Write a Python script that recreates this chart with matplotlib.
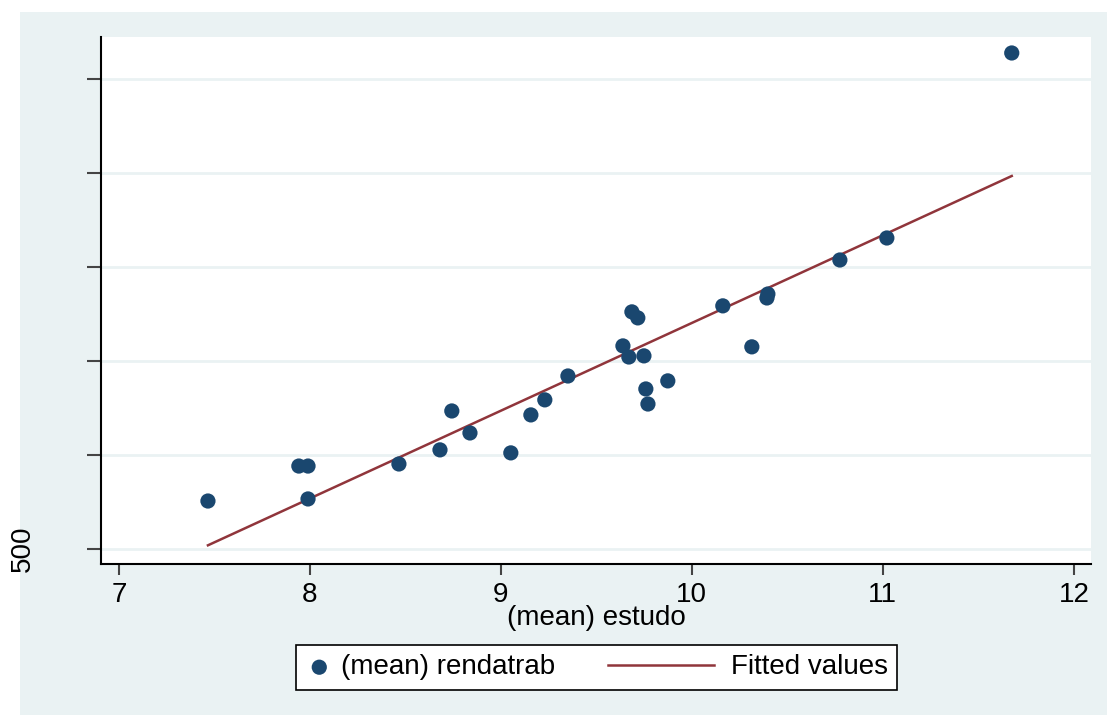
import numpy as np
import matplotlib.pyplot as plt
from matplotlib.patches import Rectangle
from matplotlib.lines import Line2D
from matplotlib.legend_handler import HandlerLine2D

plt.rcParams['font.family'] = ['Liberation Sans', 'DejaVu Sans']

# (mean) estudo vs (mean) rendatrab
estudo = [7.466, 7.942, 7.990, 7.990, 8.466, 8.681, 8.743, 8.838, 9.052,
          9.157, 9.230, 9.351, 9.639, 9.670, 9.686, 9.717, 9.749, 9.759,
          9.770, 9.874, 10.162, 10.314, 10.398, 10.393, 10.775, 11.021, 11.675]
rendatrab = [755, 941, 941, 766, 952, 1027, 1234, 1117, 1011,
             1213, 1293, 1420, 1580, 1521, 1761, 1729, 1527, 1351,
             1271, 1394, 1793, 1575, 1856, 1835, 2037, 2154, 3138]
xticks = [7, 8, 9, 10, 11, 12]
yticks = [500, 1000, 1500, 2000, 2500, 3000]
ylabels = ['500', '', '', '', '', '']

navy = '#1a476f'
maroon = '#90353b'
bg = '#eaf2f3'


class LongLine(HandlerLine2D):
    # stata-style legend line: longer than the marker key, drawn to the left
    def create_artists(self, legend, orig_handle, xdescent, ydescent,
                       width, height, fontsize, trans):
        y = height / 2 - ydescent
        x1 = width - xdescent - 6
        line = Line2D([x1 - 76, x1], [y, y])
        self.update_prop(line, orig_handle, legend)
        line.set_transform(trans)
        return [line]


x = np.array(estudo)
y = np.array(rendatrab)
m, b = np.polyfit(x, y, 1)
xf = np.array([x.min(), x.max()])

fig = plt.figure(figsize=(11.07, 7.15), dpi=100)
fig.patch.set_facecolor('white')
fig.patches.append(Rectangle((20/1107, 0), 1.0, 1 - 12/715, transform=fig.transFigure,
                             facecolor=bg, edgecolor='none', zorder=-10))

ax = fig.add_axes([101/1107, 1 - 564/715, 990/1107, 527/715])
ax.set_facecolor('white')
ax.set_axisbelow(True)
ax.grid(axis='y', color=bg, linewidth=2)
ax.grid(axis='x', visible=False)

ax.scatter(x, y, s=120, color=navy, edgecolors='none', zorder=3,
           label='(mean) rendatrab')
fit, = ax.plot(xf, m * xf + b, color=maroon, linewidth=1.8, zorder=2,
               label='Fitted values')

ax.set_xlim(6.906, 12.09)
ax.set_ylim(420, 3223)
ax.set_xticks(xticks)
ax.set_xticklabels([str(t) for t in xticks], fontsize=20)
ax.set_yticks(yticks)
ax.set_yticklabels(ylabels, fontsize=20, rotation=90, va='center')
ax.tick_params(axis='y', length=10, width=1.5, color='#444444', pad=37)
ax.tick_params(axis='x', length=8, width=1.5, color='#444444', pad=5)
ax.set_xlabel('(mean) estudo', fontsize=20, labelpad=-2)

for side in ['top', 'right']:
    ax.spines[side].set_visible(False)
for side in ['left', 'bottom']:
    ax.spines[side].set_linewidth(1.5)
    ax.spines[side].set_color('black')

leg = fig.legend(loc='center', bbox_to_anchor=(596.5/1107, 1 - 667.5/715),
                 ncol=2, fontsize=20, frameon=True, fancybox=False,
                 facecolor='white', framealpha=1, edgecolor='black',
                 handlelength=1.0, columnspacing=5.0, handletextpad=0.3,
                 borderpad=0.33, borderaxespad=0, handler_map={fit: LongLine()})
leg.get_frame().set_linewidth(1.2)

fig.savefig('out.png', dpi=100, facecolor=fig.get_facecolor())
